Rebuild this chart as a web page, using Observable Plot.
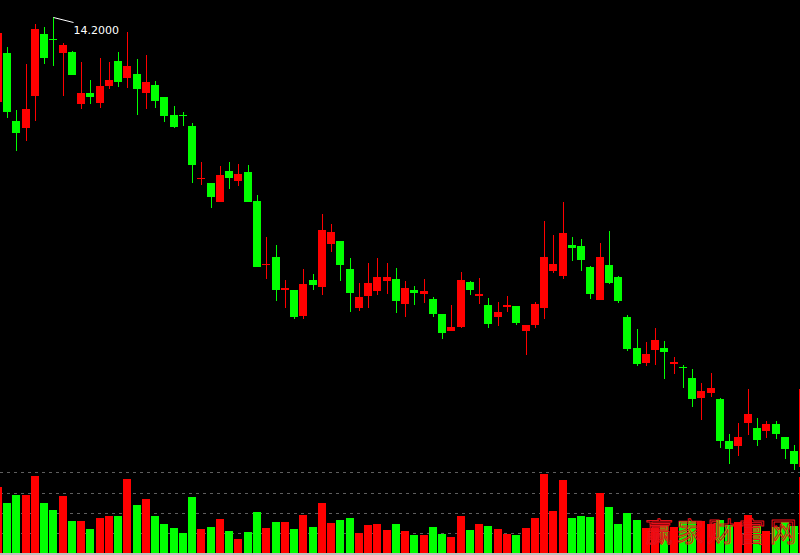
<!DOCTYPE html>
<html><head><meta charset="utf-8">
<script src="https://cdn.jsdelivr.net/npm/d3@7"></script>
<script src="https://cdn.jsdelivr.net/npm/@observablehq/plot@0.6"></script>
<style>
html,body{margin:0;padding:0;background:#000;}
#chart{position:relative;width:800px;height:555px;overflow:hidden;background:#000;}
#chart svg{position:absolute;left:0;overflow:hidden;}
</style></head><body><div id="chart"></div>
<script>
// Daily OHLC prices (index 0 and 87 are partly cut off at the edges)
const open = [13.35,13.84,13.16,13.09,13.41,14.03,13.98,13.84,13.85,13.33,13.44,13.34,13.51,13.76,13.59,13.63,13.44,13.52,13.40,13.22,
  13.22,13.11,12.58,12.54,12.35,12.66,12.56,12.65,12.36,11.72,11.80,11.47,11.47,11.21,11.57,11.50,11.93,11.96,11.68,11.29,
  11.41,11.46,11.56,11.58,11.33,11.47,11.43,11.38,11.23,11.06,11.10,11.55,11.41,11.32,11.20,11.30,11.31,11.06,11.12,11.29,
  11.66,11.61,11.92,11.91,11.70,11.37,11.72,11.60,11.20,10.89,10.74,10.87,10.89,10.73,10.70,10.59,10.39,10.44,10.38,9.96,
  9.91,10.14,10.09,10.06,10.13,10.00,9.86,9.70];
const high = [14.09,13.90,13.27,13.73,14.13,14.10,14.20,13.94,13.86,13.75,13.57,13.79,13.75,13.85,14.05,13.78,13.82,13.56,13.40,13.31,
  13.25,13.14,12.75,12.54,12.71,12.75,12.73,12.72,12.42,12.00,11.92,11.57,11.47,11.68,11.63,12.23,12.13,11.96,11.79,11.54,
  11.74,11.79,11.74,11.69,11.56,11.51,11.58,11.40,11.23,11.32,11.65,11.56,11.59,11.39,11.35,11.41,11.31,11.12,11.35,12.16,
  12.02,12.35,12.00,11.98,11.71,11.94,12.06,11.61,11.22,11.08,10.95,11.09,10.96,10.80,10.72,10.68,10.54,10.64,10.39,10.03,
  10.14,10.48,10.19,10.16,10.16,10.00,9.92,10.52];
const low = [13.31,13.19,12.86,12.96,13.16,13.73,13.71,13.41,13.62,13.28,13.33,13.29,13.48,13.50,13.49,13.22,13.28,13.29,13.15,13.09,
  13.11,12.54,12.52,12.29,12.35,12.48,12.51,12.35,11.70,11.58,11.36,11.29,11.18,11.18,11.47,11.42,11.85,11.56,11.25,11.26,
  11.29,11.42,11.43,11.24,11.20,11.32,11.34,11.20,10.98,11.06,11.09,11.42,11.33,11.09,11.11,11.25,11.12,10.82,11.09,11.18,
  11.64,11.58,11.76,11.66,11.38,11.37,11.53,11.34,10.86,10.71,10.71,10.72,10.58,10.63,10.49,10.30,10.17,10.40,9.89,9.73,
  9.81,10.02,9.91,9.99,9.98,9.78,9.67,9.66];
const close = [14.04,13.25,13.04,13.28,14.08,13.79,13.97,13.92,13.62,13.44,13.40,13.51,13.57,13.55,13.71,13.48,13.55,13.36,13.21,13.10,
  13.21,12.72,12.59,12.40,12.62,12.59,12.63,12.35,11.70,11.73,11.47,11.49,11.20,11.53,11.52,12.07,12.05,11.72,11.44,11.40,
  11.54,11.60,11.60,11.36,11.49,11.44,11.46,11.23,11.04,11.10,11.57,11.47,11.43,11.13,11.25,11.32,11.14,11.12,11.33,11.80,
  11.73,12.04,11.89,11.77,11.43,11.80,11.54,11.36,10.88,10.73,10.83,10.97,10.85,10.75,10.69,10.38,10.46,10.49,9.96,9.88,
  10.00,10.23,9.97,10.13,10.03,9.88,9.73,10.48];
const volume = [16500,12500,14500,14500,19250,12500,10750,14250,8000,8000,6000,8750,9250,9250,18500,12000,13500,9250,7250,6250,
  5000,14000,6000,6500,8500,5500,3500,5250,10250,6250,7750,7750,6000,9500,6500,12500,7500,8250,8750,5000,
  7000,7250,5750,7250,5500,4500,4500,6500,4750,4000,9250,5750,7250,6750,6000,4750,4500,6250,8750,19750,
  10500,18250,8750,9250,9000,15000,11500,7250,10000,8250,6250,6250,6750,6500,8000,8000,8000,7250,8250,7000,
  7750,9500,6750,5500,6500,7750,6750,19000];
const volTicks = [5000, 10000, 15000, 20250];
const peakLabel = "14.2000";
const peakIndex = 6;
const watermark = "赢家财富网";

const UP = "#ff0000", DOWN = "#00ff00";
const half = 0.432;
const candles = d3.range(open.length).map(i => ({
  i, open: open[i], high: high[i], low: low[i], close: close[i], vol: volume[i],
  color: close[i] >= open[i] ? UP : DOWN
}));
const xOpts = {type: "linear", domain: [0.244, 86.646], round: true, axis: null};
const crisp = {shapeRendering: "crispEdges", clip: true};

const main = Plot.plot({
  width: 800, height: 470,
  marginTop: 0, marginBottom: 0, marginLeft: 0, marginRight: 0,
  style: {background: "#000", fontFamily: "DejaVu Sans"},
  x: xOpts,
  y: {type: "linear", domain: [9.67, 14.37], round: true, axis: null},
  marks: [
    Plot.ruleX(candles, {x: "i", y1: "low", y2: "high", stroke: "color", strokeWidth: 1, ...crisp}),
    Plot.rect(candles, {x1: d => d.i - half, x2: d => d.i + half, y1: "open", y2: "close", fill: "color", ...crisp}),
    Plot.link([{x1: peakIndex, y1: high[peakIndex], x2: peakIndex + 2.13, y2: high[peakIndex] - 0.05}],
      {x1: "x1", y1: "y1", x2: "x2", y2: "y2", stroke: "#ffffff", strokeWidth: 1}),
    Plot.text([{x: peakIndex, y: high[peakIndex], t: peakLabel}],
      {x: "x", y: "y", text: "t", dx: 20, dy: 16, textAnchor: "start", lineAnchor: "bottom",
       fill: "#ffffff", fontSize: 11, fontFamily: "DejaVu Sans"})
  ]
});
main.style.top = "0px";

const vol = Plot.plot({
  width: 800, height: 85,
  marginTop: 0, marginBottom: 2, marginLeft: 0, marginRight: 0,
  style: {background: "#000", fontFamily: "DejaVu Sans"},
  x: xOpts,
  y: {type: "linear", domain: [0, 20750], round: true, axis: null},
  marks: [
    Plot.ruleY(volTicks, {stroke: "#5e5e5e", strokeDasharray: "3,4"}),
    Plot.rect(candles, {x1: d => d.i - half, x2: d => d.i + half, y1: 0, y2: "vol", fill: "color", ...crisp}),
    Plot.ruleY([0], {stroke: "#c0c0c0", strokeWidth: 2, dy: 0.5}),
    Plot.text([watermark], {frameAnchor: "bottom-right", text: d => d, textAnchor: "end", lineAnchor: "bottom",
      dy: -12, fontSize: 27, fontFamily: "Noto Sans CJK SC", fill: "none", stroke: "#e8101a", strokeWidth: 1})
  ]
});
vol.style.top = "470px";
vol.querySelectorAll("text").forEach(t => { if (t.textContent === watermark) t.setAttribute("letter-spacing", "4"); });

const c = document.getElementById("chart");
c.appendChild(main);
c.appendChild(vol);
</script></body></html>
